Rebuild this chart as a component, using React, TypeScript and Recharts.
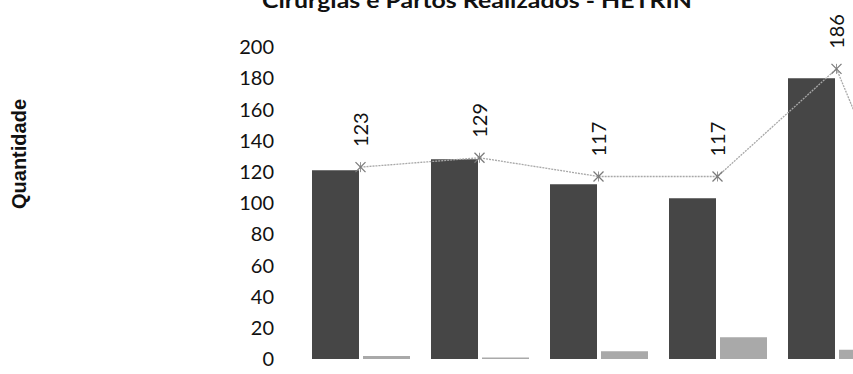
import React from "react";
import { ComposedChart, Bar, Line, XAxis, YAxis, LabelList } from "recharts";

// values; the 6th month is mostly outside the crop
const months = ["Jan", "Fev", "Mar", "Abr", "Mai", "Jun"];
const cirurgias = [121, 128, 112, 103, 180, 2];
const partos = [2, 1, 5, 14, 6, 0];
const totals = [123, 129, 117, 117, 186, 2];
const yTicks = [0, 20, 40, 60, 80, 100, 120, 140, 160, 180, 200];

const VIEW_W = 853;

const data = months.map((name, i) => ({
  name,
  cirurgias: cirurgias[i],
  partos: partos[i],
  total: totals[i],
}));

const StarDot = (props: any) => {
  const { cx, cy } = props;
  if (cx == null || cy == null) return null;
  const s = 5;
  return (
    <g stroke="#7a7a7a" strokeWidth={1.3}>
      <line x1={cx - s} y1={cy - s} x2={cx + s} y2={cy + s} />
      <line x1={cx - s} y1={cy + s} x2={cx + s} y2={cy - s} />
      <line x1={cx} y1={cy - s} x2={cx} y2={cy + s} strokeWidth={0.8} />
    </g>
  );
};

const TotalLabel = (props: any) => {
  const { x, y, value } = props;
  // the crop hides whatever sits past the right edge
  if (x > VIEW_W) return null;
  return (
    <text
      transform={`translate(${x},${y - 20}) rotate(-90)`}
      textAnchor="start"
      dy="0.35em"
      fontSize={20}
      fontFamily="Lato, 'Open Sans', sans-serif"
      fill="#111"
    >
      {value}
    </text>
  );
};

export default function App() {
  return (
    <div
      style={{
        position: "absolute",
        left: 0,
        top: 0,
        width: VIEW_W,
        height: 374,
        overflow: "hidden",
        background: "#fff",
      }}
    >
      <ComposedChart
        width={1021}
        height={374}
        data={data}
        margin={{ top: 47, right: 6, bottom: 15, left: 1 }}
        barGap={4}
        barCategoryGap={11}
      >
        <XAxis dataKey="name" hide />
        <YAxis
          domain={[0, 200]}
          ticks={yTicks}
          width={300}
          axisLine={false}
          tickLine={false}
          tickMargin={21}
          tick={{ fontSize: 20, fill: "#111", fontFamily: "Lato, 'Open Sans', sans-serif" }}
          interval={0}
        />
        <Bar dataKey="cirurgias" fill="#464646" isAnimationActive={false} />
        <Bar dataKey="partos" fill="#a9a9a9" isAnimationActive={false} />
        <Line
          dataKey="total"
          stroke="#a8a8a8"
          strokeWidth={1.3}
          strokeDasharray="2 1"
          dot={<StarDot />}
          activeDot={false}
          isAnimationActive={false}
        >
          <LabelList dataKey="total" content={<TotalLabel />} />
        </Line>
      </ComposedChart>
      <svg
        width={VIEW_W}
        height={374}
        style={{ position: "absolute", left: 0, top: 0, pointerEvents: "none" }}
      >
        <text
          x={262}
          y={8}
          fontSize={21}
          fontWeight="bold"
          fontFamily="Lato, 'Open Sans', sans-serif"
          textLength={430}
          lengthAdjust="spacingAndGlyphs"
          fill="#111"
        >
          Cirurgias e Partos Realizados - HETRIN
        </text>
        <text
          transform="translate(19,154) rotate(-90)"
          textAnchor="middle"
          dy="0.35em"
          fontSize={20}
          fontWeight="bold"
          fontFamily="'Liberation Sans', Arial, sans-serif"
          fill="#111"
        >
          Quantidade
        </text>
      </svg>
    </div>
  );
}
